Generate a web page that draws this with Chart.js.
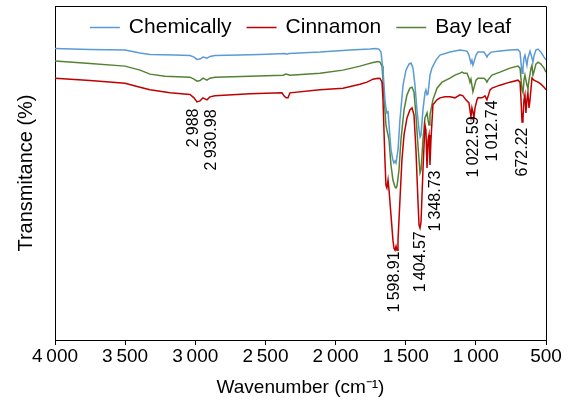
<!DOCTYPE html>
<html>
<head>
<meta charset="utf-8">
<script src="https://cdn.jsdelivr.net/npm/chart.js@4/dist/chart.umd.min.js"></script>
<style>
  html, body { margin: 0; padding: 0; background: #fff; }
  #wrap { width: 571px; height: 408px; }
</style>
</head>
<body>
<div id="wrap"><canvas id="ftirChart" width="571" height="408"></canvas></div>
<script>
// wavenumber (cm-1) and transmittance (%)
const chemWn = [4000, 3750, 3501, 3394, 3323, 3145, 3038, 3009, 2988, 2966, 2945, 2931, 2917, 2895, 2860, 2681, 2539, 2361, 2346, 2332, 2111, 1897, 1755, 1712, 1691, 1676, 1662, 1648, 1641, 1634, 1626, 1619, 1605, 1591, 1584, 1576, 1569, 1555, 1541, 1519, 1498, 1477, 1462, 1448, 1434, 1420, 1405, 1398, 1391, 1377, 1363, 1356, 1348, 1341, 1327, 1313, 1284, 1256, 1184, 1113, 1063, 1049, 1035, 1028, 1021, 1014, 999, 985, 942, 928, 921, 914, 892, 828, 757, 700, 685, 671, 664, 657, 650, 643, 636, 629, 614, 600, 593, 586, 572, 557, 536, 514, 500];
const chemT = [87.3, 87.0, 86.8, 85.9, 85.5, 85.3, 85.2, 84.7, 84.0, 84.1, 84.7, 84.6, 84.4, 84.9, 85.2, 85.3, 85.5, 85.8, 85.6, 85.8, 86.2, 86.8, 87.1, 87.3, 87.1, 86.2, 80.8, 71.9, 69.5, 68.0, 68.3, 64.4, 56.9, 53.9, 53.0, 53.6, 53.0, 56.9, 65.9, 76.3, 80.8, 82.6, 82.9, 81.4, 76.3, 68.9, 62.9, 60.8, 61.4, 68.9, 74.0, 74.9, 73.4, 73.7, 79.3, 81.4, 83.8, 85.3, 86.2, 86.8, 86.5, 85.3, 82.9, 83.8, 82.3, 83.2, 85.3, 86.2, 86.2, 85.3, 84.7, 85.3, 86.2, 86.5, 86.8, 87.0, 86.2, 79.9, 81.4, 84.4, 85.3, 83.8, 82.3, 84.4, 86.5, 84.4, 83.2, 85.0, 86.8, 87.1, 86.2, 84.7, 83.8];

const cinnWn = [4000, 3750, 3501, 3394, 3323, 3180, 3038, 3009, 2988, 2966, 2945, 2931, 2917, 2895, 2860, 2610, 2382, 2368, 2353, 2339, 2325, 2111, 1947, 1826, 1776, 1733, 1698, 1683, 1669, 1662, 1655, 1648, 1641, 1634, 1626, 1619, 1605, 1591, 1584, 1576, 1569, 1562, 1555, 1541, 1527, 1512, 1491, 1470, 1455, 1441, 1427, 1413, 1405, 1398, 1391, 1377, 1363, 1356, 1348, 1341, 1334, 1327, 1320, 1306, 1277, 1256, 1220, 1184, 1149, 1113, 1092, 1071, 1049, 1042, 1035, 1028, 1021, 1014, 1006, 992, 985, 956, 935, 921, 914, 899, 885, 828, 757, 700, 685, 678, 671, 664, 657, 650, 643, 636, 629, 621, 614, 600, 586, 557, 536, 514, 500];
const cinnT = [78.4, 77.7, 76.9, 75.7, 74.9, 74.0, 73.5, 72.5, 71.3, 71.6, 72.5, 72.2, 71.9, 72.8, 73.1, 73.7, 74.0, 73.1, 72.5, 72.5, 74.0, 74.9, 75.4, 76.6, 77.2, 78.1, 78.4, 78.3, 77.2, 71.9, 62.9, 53.9, 46.4, 45.5, 47.9, 44.9, 37.4, 29.9, 27.5, 26.9, 28.1, 26.9, 29.9, 41.9, 53.9, 61.4, 66.5, 68.9, 69.5, 67.4, 56.9, 41.9, 34.4, 33.5, 35.3, 50.9, 64.4, 62.9, 51.5, 59.9, 61.4, 52.4, 59.9, 70.4, 71.9, 72.5, 72.8, 72.8, 72.5, 73.4, 73.1, 71.9, 71.0, 68.9, 66.8, 69.5, 68.3, 66.5, 69.5, 71.9, 72.5, 72.5, 73.1, 71.9, 72.8, 74.9, 75.4, 76.3, 77.2, 77.8, 77.2, 71.9, 65.3, 66.5, 71.9, 73.4, 68.0, 71.9, 74.0, 69.5, 71.9, 78.4, 77.8, 77.2, 76.6, 75.7, 74.9];

const bayWn = [4000, 3750, 3501, 3394, 3323, 3216, 3038, 3009, 2988, 2966, 2945, 2931, 2917, 2895, 2860, 2610, 2375, 2353, 2325, 2111, 1947, 1826, 1776, 1733, 1698, 1683, 1669, 1662, 1648, 1641, 1634, 1626, 1619, 1605, 1591, 1576, 1569, 1562, 1548, 1534, 1512, 1491, 1470, 1455, 1441, 1427, 1413, 1398, 1391, 1377, 1363, 1348, 1341, 1334, 1327, 1306, 1277, 1241, 1184, 1149, 1113, 1099, 1085, 1063, 1049, 1042, 1035, 1021, 1014, 999, 985, 942, 928, 921, 914, 885, 828, 757, 700, 685, 671, 664, 657, 650, 636, 629, 621, 607, 600, 593, 586, 572, 557, 536, 514, 500];
const bayT = [83.5, 82.8, 82.0, 80.8, 79.6, 79.0, 78.7, 78.1, 77.5, 77.7, 78.4, 78.1, 77.8, 78.4, 78.7, 79.0, 79.3, 79.6, 79.3, 79.9, 80.8, 82.0, 82.6, 83.1, 83.4, 83.2, 82.0, 77.8, 68.9, 64.4, 62.9, 61.4, 59.9, 52.4, 47.9, 45.8, 45.5, 46.1, 50.9, 59.9, 68.9, 73.4, 75.4, 75.7, 74.3, 67.4, 58.4, 50.0, 50.9, 59.9, 66.5, 68.0, 65.9, 64.4, 67.4, 71.9, 75.4, 77.2, 78.4, 79.3, 79.9, 80.2, 79.9, 79.9, 78.4, 77.2, 78.1, 74.3, 75.4, 77.8, 78.4, 78.4, 77.8, 77.2, 77.8, 79.3, 80.2, 81.4, 82.0, 81.4, 74.9, 74.0, 77.8, 79.3, 76.3, 75.4, 77.8, 81.4, 82.3, 79.3, 80.2, 82.6, 83.2, 82.6, 81.4, 80.2];

const seriesNames = ['Chemically', 'Cinnamon', 'Bay leaf'];
const seriesColors = ['#5B9BD5', '#C00000', '#548235'];

// peak labels and where their text sits (wavenumber, transmittance)
const peakLabels = ['2\u2009988', '2\u2009930.98', '1\u2009598.91', '1\u2009404.57', '1\u2009348.73', '1\u2009022.59', '1\u2009012.74', '672.22'];
const peakLabelWn = [3009, 2881, 1576, 1391, 1284, 1014, 879, 664];
const peakLabelT = [63.5, 59.9, 17.4, 23.4, 41.6, 57.8, 62.6, 56.3];

const FONT = '"Liberation Sans", Arial, sans-serif';

function toPoints(wn, t) {
    return wn.map((w, i) => ({ x: w, y: t[i] }));
}

// top and right edges of the plot box
const frame = {
    id: 'frame',
    afterDraw(chart) {
        const { ctx, chartArea: a } = chart;
        ctx.save();
        ctx.strokeStyle = '#000';
        ctx.lineWidth = 1;
        ctx.beginPath();
        ctx.moveTo(Math.round(a.left), Math.round(a.top) + 0.5);
        ctx.lineTo(Math.round(a.right) + 0.5, Math.round(a.top) + 0.5);
        ctx.lineTo(Math.round(a.right) + 0.5, Math.round(a.bottom));
        ctx.stroke();
        ctx.restore();
    }
};

// one-row legend inside the plot, at the top
const insideLegend = {
    id: 'insideLegend',
    afterDraw(chart) {
        const { ctx, chartArea: a } = chart;
        const sets = chart.data.datasets;
        const lineLen = 30, gapText = 9, gapItem = 15;
        ctx.save();
        ctx.font = '21px ' + FONT;
        ctx.textBaseline = 'middle';
        ctx.textAlign = 'left';
        const widths = sets.map(d => ctx.measureText(d.label).width);
        const total = widths.reduce((s, w) => s + lineLen + gapText + w, 0) + gapItem * (sets.length - 1);
        let x = (a.left + a.right) / 2 - total / 2;
        const y = a.top + 21;
        sets.forEach((d, i) => {
            ctx.strokeStyle = d.borderColor;
            ctx.lineWidth = d.borderWidth;
            ctx.beginPath();
            ctx.moveTo(x, y + 0.5);
            ctx.lineTo(x + lineLen, y + 0.5);
            ctx.stroke();
            ctx.fillStyle = '#000';
            ctx.fillText(d.label, x + lineLen + gapText, y);
            x += lineLen + gapText + widths[i] + gapItem;
        });
        ctx.restore();
    }
};

const peakText = {
    id: 'peakText',
    afterDatasetsDraw(chart) {
        const { ctx, scales: { x, y } } = chart;
        ctx.save();
        ctx.font = '16px ' + FONT;
        ctx.fillStyle = '#000';
        ctx.textAlign = 'center';
        ctx.textBaseline = 'middle';
        peakLabels.forEach((txt, i) => {
            ctx.save();
            ctx.translate(x.getPixelForValue(peakLabelWn[i]), y.getPixelForValue(peakLabelT[i]));
            ctx.rotate(-Math.PI / 2);
            ctx.fillText(txt, 0, 0);
            ctx.restore();
        });
        ctx.restore();
    }
};

const ctx = document.getElementById('ftirChart').getContext('2d');
new Chart(ctx, {
    type: 'line',
    data: {
        datasets: [
            { label: seriesNames[0], data: toPoints(chemWn, chemT), borderColor: seriesColors[0] },
            { label: seriesNames[1], data: toPoints(cinnWn, cinnT), borderColor: seriesColors[1] },
            { label: seriesNames[2], data: toPoints(bayWn, bayT), borderColor: seriesColors[2] }
        ].map(d => Object.assign(d, { borderWidth: 1.5, pointRadius: 0, tension: 0, fill: false }))
    },
    options: {
        responsive: false,
        animation: false,
        devicePixelRatio: 1,
        layout: { padding: { top: 6, right: 25, left: 10, bottom: 5 } },
        plugins: {
            tooltip: { enabled: false },
            legend: { display: false }
        },
        scales: {
            x: {
                type: 'linear',
                min: 500,
                max: 4000,
                reverse: true,
                afterFit: s => { s.height = 63; },
                ticks: {
                    stepSize: 500,
                    padding: 0,
                    color: '#000',
                    font: { family: FONT, size: 19 },
                    maxRotation: 0,
                    callback: v => String(v).replace(/\B(?=(\d{3})+(?!\d))/g, '\u2009')
                },
                grid: { drawOnChartArea: false, drawTicks: true, tickLength: 5, color: '#000' },
                border: { color: '#000', width: 1 },
                title: {
                    display: true,
                    text: 'Wavenumber (cm\u207B\u00B9)',
                    color: '#000',
                    font: { family: FONT, size: 19 }
                }
            },
            y: {
                min: 0,
                max: 100,
                afterFit: s => { s.width = 45; },
                ticks: { display: false },
                grid: { display: false },
                border: { color: '#000', width: 1 },
                title: {
                    display: true,
                    text: 'Transmitance (%)',
                    color: '#000',
                    font: { family: FONT, size: 20 }
                }
            }
        }
    },
    plugins: [frame, insideLegend, peakText]
});
</script>
</body>
</html>
